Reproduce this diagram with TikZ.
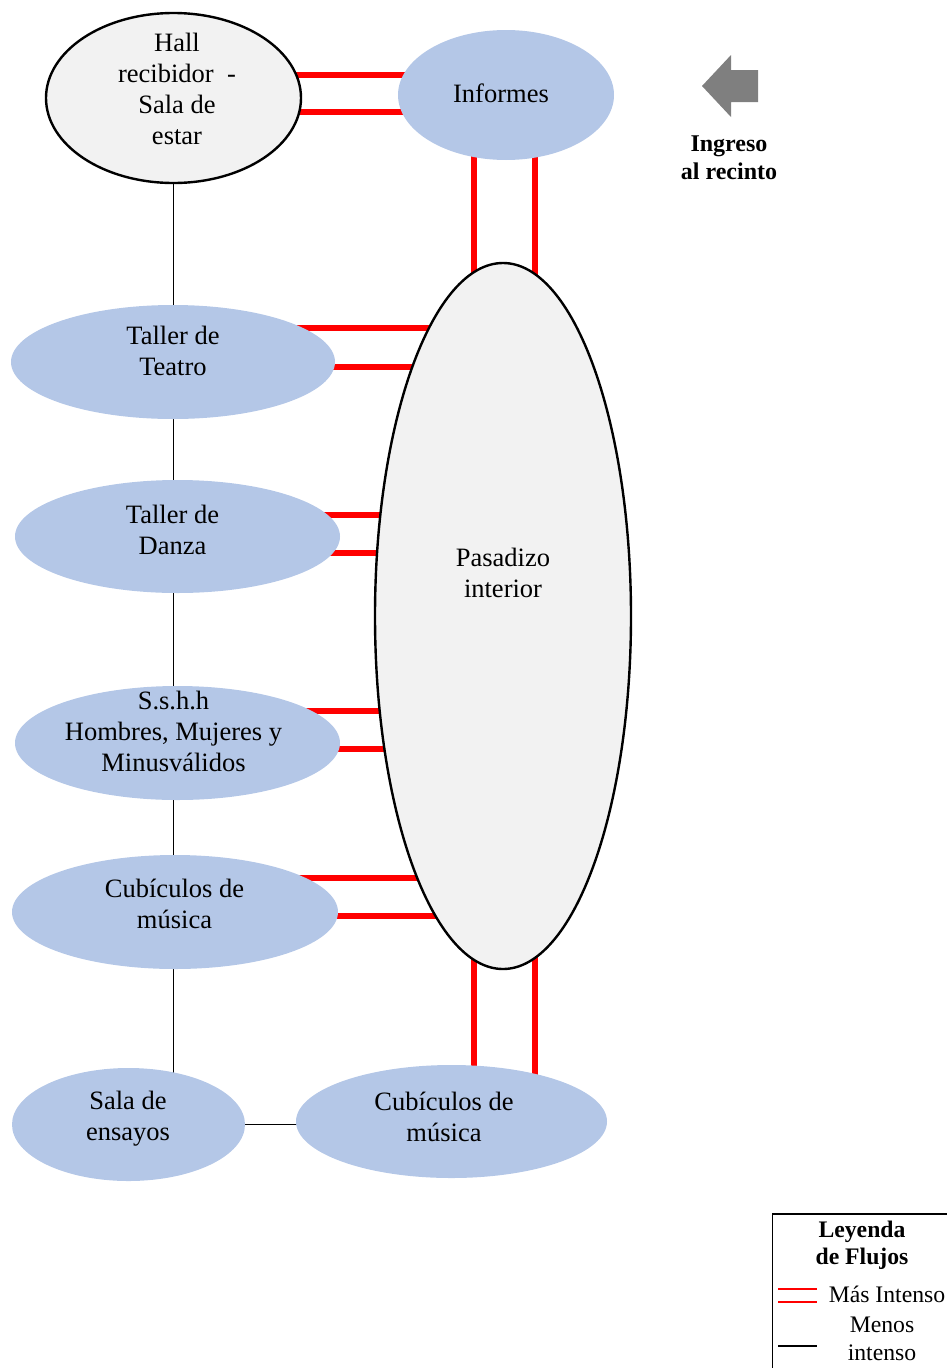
\documentclass[tikz,border=0pt]{standalone}
\usepackage{fontspec}
\setmainfont{Liberation Serif}
\usetikzlibrary{shapes.geometric,calc}
\definecolor{celeste}{HTML}{B4C7E7}
\definecolor{grisclaro}{HTML}{F2F2F2}
\definecolor{gris}{HTML}{7F7F7F}
\pgfdeclarelayer{fondo}
\pgfsetlayers{fondo,main}
\tikzset{
  sala/.style={ellipse, fill=celeste, inner sep=0pt},
  patio/.style={ellipse, draw=black, line width=2.4pt, fill=grisclaro, inner sep=0pt},
  texto/.style={align=center, inner sep=0pt, font=\fontsize{26.5}{31}\selectfont},
  titulo/.style={align=center, inner sep=0pt, font=\fontsize{23.7}{27.5}\selectfont\bfseries},
  nota/.style={align=center, inner sep=0pt, font=\fontsize{23.7}{27.5}\selectfont},
  flujo/.style={red, line width=5.5pt},
  debil/.style={black, line width=1pt},
}

\begin{document}
\begin{tikzpicture}[x=1pt,y=-1pt]
    \useasboundingbox (0,0) rectangle (947,1368);

    \node[patio, minimum width=255pt, minimum height=170pt] (hall) at (173.5,98) {};
    \node[sala, minimum width=216pt, minimum height=130pt] (informes) at (506,95) {};
    \node[patio, minimum width=256pt, minimum height=706pt] (pasadizo) at (503,616) {};
    \node[sala, minimum width=324pt, minimum height=114pt] (teatro) at (173,362) {};
    \node[sala, minimum width=325pt, minimum height=113pt] (danza) at (177.5,536.5) {};
    \node[sala, minimum width=325pt, minimum height=114pt] (sshh) at (177.5,743) {};
    \node[sala, minimum width=326pt, minimum height=114pt] (cubiculos) at (175,912) {};
    \node[sala, minimum width=233pt, minimum height=113pt] (ensayos) at (128.5,1124.5) {};
    \node[sala, minimum width=311pt, minimum height=113pt] (musica) at (451.5,1121.5) {};

    \node[texto] (hall-t) at (177,89) {Hall\\recibidor\ \ -\\Sala de\\estar};
    \node[texto] (informes-t) at (501,93.5) {Informes};
    \node[texto] (pasadizo-t) at (503,573) {Pasadizo\\interior};
    \node[texto] (teatro-t) at (173,351) {Taller de\\Teatro};
    \node[texto] (danza-t) at (172.5,530) {Taller de\\Danza};
    \node[texto] (sshh-t) at (173.5,731) {S.s.h.h\\Hombres, Mujeres y\\Minusválidos};
    \node[texto] (cubiculos-t) at (174.5,904) {Cubículos de\\música};
    \node[texto] (ensayos-t) at (128,1118.5) {Sala de\\ensayos};
    \node[texto] (musica-t) at (444,1116.5) {Cubículos de\\música};

    \begin{pgfonlayer}{fondo}
        \draw[flujo] ($(hall.center)+(0,-23)$) -- ($(hall.center -| informes.center)+(0,-23)$);
        \draw[flujo] ($(hall.center)+(0,14)$) -- ($(hall.center -| informes.center)+(0,14)$);
        \draw[flujo] ($(informes.center -| pasadizo.center)+(-29,0)$) -- ($(pasadizo.center)+(-29,0)$);
        \draw[flujo] ($(informes.center -| pasadizo.center)+(32,0)$) -- ($(pasadizo.center)+(32,0)$);
        \draw[flujo] ($(teatro.center)+(0,-34)$) -- ($(teatro.center -| pasadizo.center)+(0,-34)$);
        \draw[flujo] ($(teatro.center)+(0,5)$) -- ($(teatro.center -| pasadizo.center)+(0,5)$);
        \draw[flujo] ($(danza.center)+(0,-21.5)$) -- ($(danza.center -| pasadizo.center)+(0,-21.5)$);
        \draw[flujo] ($(danza.center)+(0,16.5)$) -- ($(danza.center -| pasadizo.center)+(0,16.5)$);
        \draw[flujo] ($(sshh.center)+(0,-32)$) -- ($(sshh.center -| pasadizo.center)+(0,-32)$);
        \draw[flujo] ($(sshh.center)+(0,6)$) -- ($(sshh.center -| pasadizo.center)+(0,6)$);
        \draw[flujo] ($(cubiculos.center)+(0,-34)$) -- ($(cubiculos.center -| pasadizo.center)+(0,-34)$);
        \draw[flujo] ($(cubiculos.center)+(0,4)$) -- ($(cubiculos.center -| pasadizo.center)+(0,4)$);
        \draw[flujo] ($(pasadizo.center)+(-29,0)$) -- ($(musica.center -| pasadizo.center)+(-29,0)$);
        \draw[flujo] ($(pasadizo.center)+(32,0)$) -- ($(musica.center -| pasadizo.center)+(32,0)$);

        \draw[debil] (teatro.center |- hall.center) -- (teatro.center);
        \draw[debil] (teatro.center) -- (teatro.center |- danza.center);
        \draw[debil] (teatro.center |- danza.center) -- (teatro.center |- sshh.center);
        \draw[debil] (teatro.center |- sshh.center) -- (teatro.center |- cubiculos.center);
        \draw[debil] (teatro.center |- cubiculos.center) -- (teatro.center |- ensayos.center);
        \draw[debil] (ensayos.center) -- (ensayos.center -| musica.center);
    \end{pgfonlayer}

    \fill[gris] (702,86) -- (731,55) -- (731,70) -- (758,70) -- (758,102)
        -- (731,102) -- (731,117) -- cycle;
    \node[titulo, font=\fontsize{24}{28}\selectfont\bfseries] (ingreso) at (729,158) {Ingreso\\al recinto};

    \draw[line width=1.2pt] (960,1214) -- (772.5,1214) -- (772.5,1380);
    \node[titulo] (leyenda) at (862,1245.5) {Leyenda\\de Flujos};
    \node[nota] (intenso) at (887,1294) {Más Intenso};
    \node[nota] (menos) at (882,1339) {Menos\\intenso};
    \draw[red, line width=1.5pt] (778,1289) -- (817,1289);
    \draw[red, line width=1.5pt] (778,1302) -- (817,1302);
    \draw[black, line width=1.2pt] (778,1346) -- (817,1346);
\end{tikzpicture}
\end{document}
